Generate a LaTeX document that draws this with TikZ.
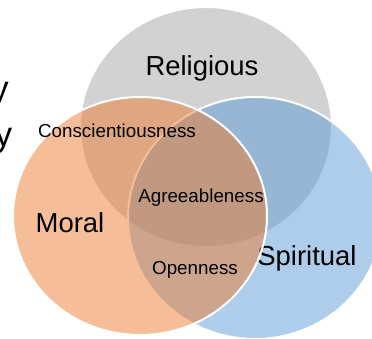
\documentclass[tikz,border=0pt]{standalone}
\usepackage{fontspec}
\setmainfont{Liberation Sans}
\definecolor{setgray}{HTML}{A5A5A5}
\definecolor{setblue}{HTML}{5B9BD5}
\definecolor{setorange}{HTML}{ED7D31}

\begin{document}
\begin{tikzpicture}[x=0.75pt,y=-0.75pt]
    \tikzstyle{set} = [draw=white, line width=1.5pt, fill opacity=0.5]
    \tikzstyle{big} = [font=\fontsize{20.6}{24}\selectfont, inner sep=0pt, anchor=base]
    \tikzstyle{trait} = [font=\fontsize{14.1}{17}\selectfont, inner sep=0pt, anchor=base]
    \tikzstyle{cut} = [font=\fontsize{26}{30}\selectfont, inner sep=0pt, anchor=base east]
    \useasboundingbox (0, 0) rectangle (372, 339);
    \clip (0, 0) rectangle (372, 339);
    % title text running off the left edge
    \node[cut] (cuta) at (9, 100) {y};
    \node[cut] (cutb) at (12.5, 146) {y};
    % the three sets
    \filldraw[set, fill=setgray] (206, 127) ellipse (126 and 120);
    \filldraw[set, fill=setblue] (255, 218) ellipse (127 and 121);
    \node[big] (spiritual) at (307, 265) {Spiritual};
    \filldraw[set, fill=setorange] (140, 216) ellipse (127 and 119);
    \node[big] (religious) at (202, 75) {Religious};
    \node[big] (moral) at (70, 232) {Moral};
    % traits in the overlaps
    \node[trait] (consc) at (117, 137) {Conscientiousness};
    \node[trait] (agree) at (201, 202) {Agreeableness};
    \node[trait] (open) at (195, 274) {Openness};
\end{tikzpicture}
\end{document}
